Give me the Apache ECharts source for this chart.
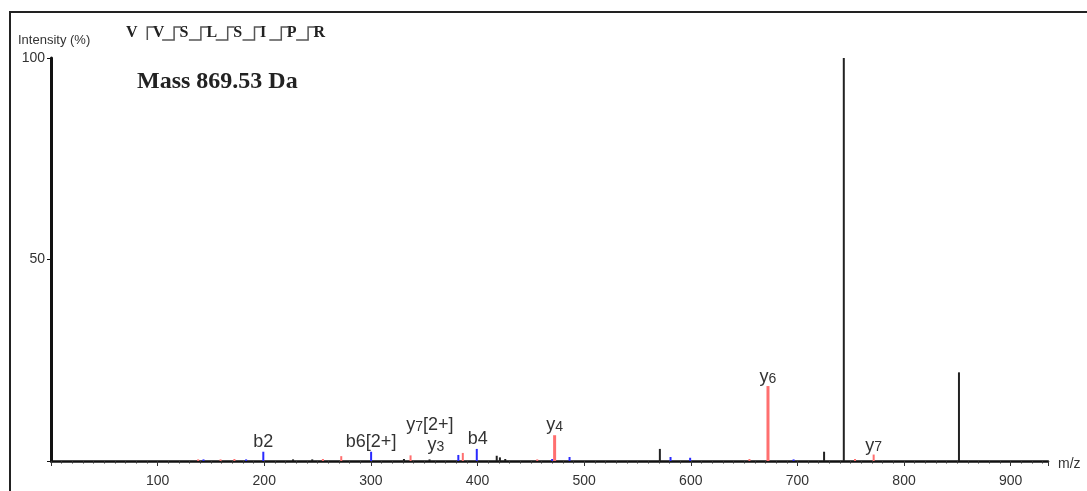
<!DOCTYPE html>
<html>
<head>
<meta charset="utf-8">
<script src="https://cdn.jsdelivr.net/npm/echarts/dist/echarts.min.js"></script>
<style>
  html, body { margin: 0; padding: 0; background: #fff; }
  #main { width: 1087px; height: 491px; }
</style>
</head>
<body>
<div id="main"></div>
<script>
// peaks (m/z, intensity %, ion type)
var peakMz  = [138, 143, 159, 172, 183, 199.1, 227, 245, 255, 272.2, 300.2, 331, 337.2, 355, 382, 386.2, 399.3,
               418, 421, 426, 456, 470, 472.3, 486.3, 571, 581, 599.4, 655, 672.4, 696.4, 725, 743.5, 754, 771.5, 851.5];
var peakInt = [0.4, 0.4, 0.4, 0.5, 0.4, 2.3, 0.4, 0.4, 0.5, 1.2, 2.3, 0.5, 1.4, 0.4, 1.5, 2.0, 3.0,
               1.3, 0.9, 0.5, 0.4, 0.5, 6.4, 1.0, 3.0, 1.0, 0.8, 0.5, 18.6, 0.4, 2.3, 100, 0.5, 1.6, 22];
var peakType = ['y', 'b', 'y', 'y', 'b', 'b', 'o', 'o', 'y', 'y', 'b', 'o', 'y', 'o', 'b', 'y', 'b',
               'o', 'o', 'o', 'y', 'b', 'y', 'b', 'o', 'b', 'b', 'y', 'y', 'b', 'o', 'o', 'y', 'y', 'o'];

// annotated fragment ions
var ionName = ['b2', 'b6[2+]', 'y7[2+]', 'y3', 'b4', 'y4', 'y6', 'y7'];
var ionMz   = [199.1, 300.2, 386.2, 386.2, 399.3, 472.3, 672.4, 771.5];

var sequence = ['V', 'V', 'S', 'L', 'S', 'I', 'P', 'R'];
var xTicks = [100, 200, 300, 400, 500, 600, 700, 800, 900];
var yTicks = [50, 100];

var typeColor = { y: '#ff6f6f', b: '#2a2aff', o: '#222' };
// label shifts in px from the top of the stick
var ionShift = {
  'b2': [0, -1], 'b6[2+]': [0, -1], 'y7[2+]': [-33, -19], 'y3': [-27, 1],
  'b4': [1, -1], 'y4': [0, -1], 'y6': [0, 0], 'y7': [0, 0]
};

function ionRich(name) {
  // y ions get their number as a subscript
  if (name[0] == 'y') {
    var m = name.match(/^y(\d+)(.*)$/);
    return '{n|y}{s|' + m[1] + '}' + (m[2] ? '{n|' + m[2] + '}' : '');
  }
  return '{n|' + name + '}';
}

function intensityAt(mz) {
  var i = peakMz.indexOf(mz);
  return i >= 0 ? peakInt[i] : 0;
}

var chart = echarts.init(document.getElementById('main'), null, { renderer: 'canvas' });

// sequence with fragment brackets
var seqGraphics = [];
sequence.forEach(function (aa, i) {
  var left = 126 + i * 26.8;
  seqGraphics.push({
    type: 'text', left: left, top: 25,
    style: { text: aa, font: 'bold 16px "Liberation Serif"', fill: '#222' }
  });
  if (i > 0) {
    var vx = left - 5.5;
    seqGraphics.push({
      type: 'polyline',
      shape: { points: i > 1 ? [[vx + 7, 27], [vx, 27], [vx, 40], [vx - 12, 40]] : [[vx + 7, 27], [vx, 27], [vx, 40]] },
      style: { stroke: '#555', lineWidth: 1.5, fill: null }
    });
  }
});

var option = {
  animation: false,
  grid: { left: 51, right: 39, top: 58, bottom: 30 },
  graphic: [
    { type: 'rect', shape: { x: 10, y: 12, width: 1100, height: 600 },
      style: { stroke: '#222', lineWidth: 2, fill: null }, z: -1 },
    { type: 'text', left: 18, top: 34,
      style: { text: 'Intensity (%)', font: '13px "Liberation Sans"', fill: '#333' } },
    { type: 'text', left: 137, top: 70,
      style: { text: 'Mass 869.53 Da', font: 'bold 24px "Liberation Serif"', fill: '#222' } }
  ].concat(seqGraphics),
  xAxis: {
    type: 'value', min: 0, max: 935, interval: 100,
    name: 'm/z', nameLocation: 'end', nameGap: 10,
    nameTextStyle: { fontSize: 14, color: '#333', fontFamily: 'Liberation Sans', verticalAlign: 'top', padding: [-4, 0, 0, 0] },
    axisLine: { lineStyle: { color: '#111', width: 2.5 } },
    axisTick: { length: 5, lineStyle: { color: '#333' } },
    minorTick: { show: true, splitNumber: 10, length: 2.5, lineStyle: { color: '#333' } },
    splitLine: { show: false },
    axisLabel: {
      margin: 13, fontSize: 14, color: '#333', fontFamily: 'Liberation Sans',
      formatter: function (v) { return xTicks.indexOf(v) >= 0 ? String(v) : ''; }
    }
  },
  yAxis: {
    type: 'value', min: 0, max: 100, interval: 50,
    axisLine: { show: true, lineStyle: { color: '#111', width: 3 } },
    axisTick: { show: true, length: 4, lineStyle: { color: '#111' } },
    splitLine: { show: false },
    axisLabel: {
      margin: 6, fontSize: 14, color: '#333', fontFamily: 'Liberation Sans',
      formatter: function (v) { return yTicks.indexOf(v) >= 0 ? String(v) : ''; }
    }
  },
  series: [{
    type: 'custom',
    data: peakMz.map(function (mz, i) { return [mz, peakInt[i], i]; }),
    renderItem: function (params, api) {
      var i = api.value(2);
      var base = api.coord([api.value(0), 0]);
      var top = api.coord([api.value(0), api.value(1)]);
      var t = peakType[i];
      return {
        type: 'line',
        shape: { x1: base[0], y1: base[1], x2: top[0], y2: top[1] },
        style: { stroke: typeColor[t], lineWidth: t == 'y' && api.value(1) > 5 ? 3 : 2 }
      };
    }
  }, {
    type: 'custom',
    data: ionMz.map(function (mz, i) { return [mz, intensityAt(mz), i]; }),
    renderItem: function (params, api) {
      var name = ionName[api.value(2)];
      var top = api.coord([api.value(0), api.value(1)]);
      var sh = ionShift[name];
      return {
        type: 'text',
        x: top[0] + sh[0], y: top[1] + sh[1],
        style: {
          text: ionRich(name),
          align: 'center', verticalAlign: 'bottom',
          fill: '#333',
          rich: {
            n: { fontSize: 18, lineHeight: 18, verticalAlign: 'top', fontFamily: 'Liberation Sans', color: '#3a3a3a' },
            s: { fontSize: 14, lineHeight: 14, padding: [7, 0, 0, 0], verticalAlign: 'bottom', fontFamily: 'Liberation Sans', color: '#3a3a3a' }
          }
        }
      };
    }
  }]
};

chart.setOption(option);
</script>
</body>
</html>
